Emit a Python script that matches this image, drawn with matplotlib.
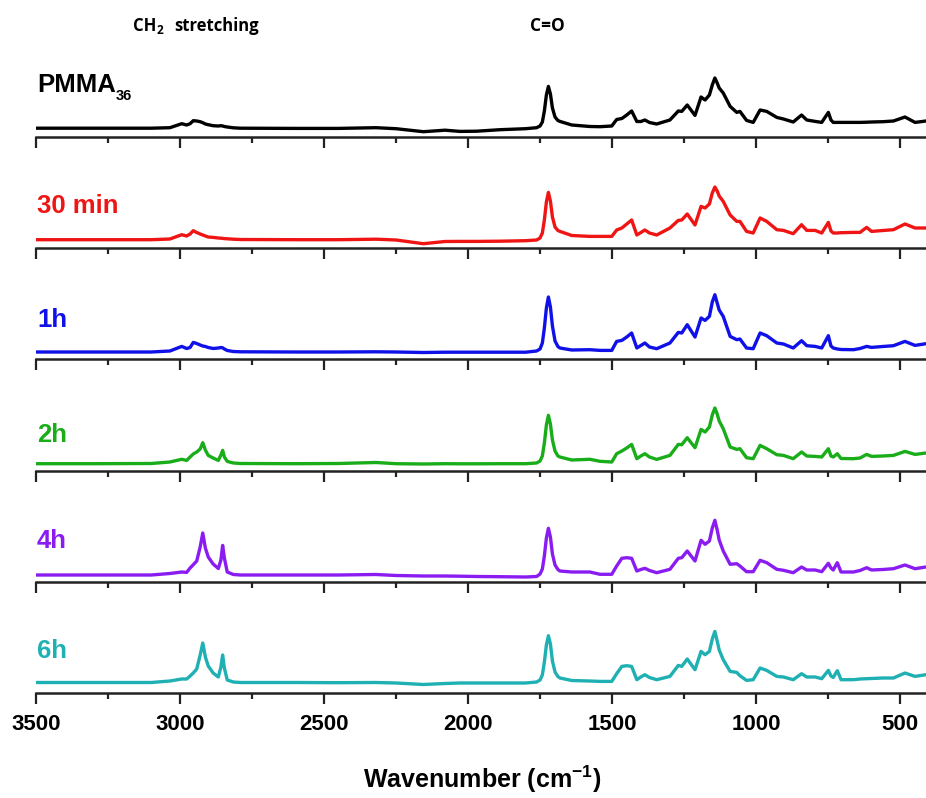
import matplotlib
matplotlib.use('Agg')
import matplotlib.pyplot as plt

plt.rcParams['font.family'] = ['Liberation Sans', 'DejaVu Sans']
plt.rcParams['font.weight'] = 'bold'
plt.rcParams['mathtext.fontset'] = 'custom'
plt.rcParams['mathtext.rm'] = 'Liberation Sans:bold'
plt.rcParams['mathtext.bf'] = 'Liberation Sans:bold'

# wavenumber grid (cm-1), shared by all spectra
wavenumber = [3500, 3300, 3100, 3035, 2994, 2977, 2965, 2954, 2942, 2930,
              2921, 2912, 2902, 2885, 2867, 2858, 2852, 2846, 2836, 2815,
              2790, 2600, 2450, 2320, 2250, 2155, 2080, 2028, 1970, 1889,
              1800, 1762, 1750, 1742, 1735, 1728, 1721, 1714, 1707, 1698,
              1688, 1681, 1640, 1577, 1542, 1501, 1484, 1466, 1449, 1432,
              1414, 1400, 1386, 1370, 1345, 1299, 1270, 1258, 1239, 1212,
              1191, 1177, 1162, 1152, 1143, 1135, 1128, 1114, 1090, 1067,
              1056, 1033, 1010, 986, 963, 928, 905, 871, 842, 824,
              795, 772, 749, 740, 732, 718, 705, 662, 639, 616,
              599, 560, 523, 483, 448, 410]

# intensities (arbitrary units, offset per panel)
pmma = [8.8, 8.8, 8.8, 9.3, 13.3, 12.0, 13.3, 16.3, 16.0, 15.3,
        14.3, 13.0, 12.3, 11.3, 11.0, 11.3, 11.0, 10.5, 10.0, 9.2,
        8.8, 8.6, 8.6, 9.3, 8.3, 5.3, 6.8, 5.6, 5.8, 7.3,
        8.3, 9.3, 11.0, 15.0, 26.0, 42.0, 50.6, 43.0, 29.0, 20.0,
        16.5, 15.6, 12.0, 10.5, 10.3, 11.0, 17.5, 18.5, 22.0, 26.0,
        15.5, 15.5, 17.0, 14.5, 13.0, 17.0, 26.0, 25.6, 32.0, 21.6,
        40.0, 37.0, 42.0, 52.0, 59.0, 54.0, 49.0, 44.0, 30.6, 24.6,
        25.6, 16.6, 14.6, 27.0, 25.6, 19.6, 18.0, 15.0, 22.0, 17.0,
        15.6, 14.6, 24.6, 17.0, 14.6, 14.6, 14.6, 14.6, 14.6, 14.8,
        15.0, 15.3, 16.0, 20.0, 14.6, 16.0]

min30 = [8.3, 8.3, 8.3, 9.0, 13.3, 12.0, 14.0, 17.3, 15.5, 14.0,
         13.0, 12.0, 11.0, 10.6, 10.0, 9.8, 9.6, 9.4, 9.2, 8.8,
         8.5, 8.3, 8.3, 8.8, 8.0, 4.3, 6.5, 6.6, 6.6, 6.8,
         7.3, 8.0, 10.0, 15.0, 28.0, 46.0, 55.6, 47.0, 31.0, 21.0,
         17.5, 16.6, 12.5, 11.6, 11.6, 11.6, 18.0, 20.0, 24.0, 28.0,
         13.0, 15.5, 18.0, 15.0, 13.0, 20.0, 27.6, 28.0, 34.0, 23.0,
         41.6, 40.0, 44.0, 55.0, 61.0, 57.0, 52.0, 46.6, 33.0, 26.6,
         26.6, 16.6, 15.0, 30.0, 26.6, 18.3, 17.6, 14.3, 23.3, 17.6,
         17.6, 15.0, 25.6, 17.0, 15.0, 15.0, 15.3, 15.6, 15.6, 20.6,
         16.6, 17.5, 18.3, 24.0, 20.0, 20.0]

h1 = [7.0, 7.0, 7.0, 8.0, 12.6, 10.5, 11.5, 16.6, 15.5, 14.0,
      13.0, 12.5, 11.5, 10.5, 11.0, 11.5, 11.2, 10.0, 8.5, 7.5,
      7.2, 7.0, 7.0, 7.2, 7.0, 6.5, 6.8, 6.8, 6.8, 6.8,
      6.8, 8.0, 10.0, 16.0, 31.0, 51.0, 62.0, 52.0, 33.0, 18.0,
      12.5, 11.0, 9.0, 9.3, 8.6, 8.6, 17.6, 18.6, 22.0, 26.0,
      11.0, 13.5, 16.0, 12.0, 10.3, 16.0, 26.6, 26.0, 34.3, 22.0,
      41.0, 38.6, 42.6, 57.0, 64.3, 56.0, 49.0, 42.6, 22.6, 19.3,
      20.0, 11.0, 10.3, 26.0, 23.3, 16.0, 15.0, 11.0, 18.3, 13.3,
      12.6, 11.0, 23.3, 13.0, 11.0, 10.0, 9.5, 9.3, 10.5, 12.6,
      11.6, 12.5, 13.3, 17.6, 13.6, 15.3]

h2 = [7.3, 7.3, 7.5, 9.0, 11.7, 10.6, 14.0, 17.0, 19.0, 22.0,
      28.3, 21.0, 15.6, 13.0, 10.6, 16.0, 20.6, 14.0, 9.6, 8.0,
      7.5, 7.3, 7.5, 8.5, 7.3, 7.0, 7.3, 7.2, 7.2, 7.3,
      7.3, 8.0, 10.0, 15.0, 28.0, 46.0, 55.7, 47.0, 31.0, 20.0,
      15.0, 14.0, 11.0, 11.7, 9.7, 9.0, 17.3, 20.0, 23.0, 26.6,
      12.3, 15.0, 17.3, 14.0, 11.6, 15.6, 26.6, 26.3, 33.3, 23.3,
      41.6, 39.0, 44.0, 56.0, 63.0, 57.0, 50.0, 42.3, 24.0, 21.6,
      22.3, 13.3, 12.3, 25.6, 22.3, 16.3, 15.6, 12.3, 19.0, 15.0,
      14.6, 14.0, 22.3, 15.0, 14.0, 17.3, 12.5, 12.3, 13.0, 16.6,
      14.6, 15.0, 15.6, 19.6, 16.6, 18.0]

h4 = [7.0, 7.0, 7.0, 8.5, 10.0, 9.6, 14.0, 17.3, 21.0, 35.0,
      49.0, 34.0, 25.0, 18.0, 13.5, 22.0, 36.6, 24.0, 10.0, 7.5,
      7.0, 7.0, 7.0, 7.5, 6.5, 6.0, 6.0, 5.8, 5.5, 5.3,
      5.0, 5.5, 8.0, 13.0, 26.0, 44.0, 53.7, 45.0, 28.0, 17.0,
      12.5, 11.0, 10.0, 10.0, 7.7, 7.7, 16.0, 23.7, 24.3, 23.7,
      11.0, 12.5, 13.7, 11.5, 9.3, 12.7, 23.7, 24.3, 31.0, 21.0,
      41.7, 37.7, 41.0, 54.0, 61.7, 52.0, 42.0, 31.0, 17.7, 18.3,
      16.0, 10.3, 10.3, 21.7, 19.3, 12.7, 11.7, 9.3, 15.0, 12.0,
      12.0, 10.3, 18.7, 14.0, 12.0, 19.3, 10.0, 10.0, 11.5, 14.3,
      12.0, 12.5, 13.3, 17.0, 13.3, 15.0]

h6 = [10.5, 10.5, 10.5, 12.0, 14.0, 14.0, 17.0, 20.0, 24.0, 38.0,
      50.0, 36.0, 27.0, 20.0, 16.0, 26.0, 38.0, 25.0, 13.0, 11.0,
      10.5, 10.5, 10.3, 10.5, 10.0, 8.5, 9.5, 10.0, 10.0, 10.0,
      10.0, 11.0, 13.0, 18.0, 31.0, 48.0, 57.3, 49.0, 32.0, 21.0,
      16.5, 15.0, 12.5, 12.0, 11.6, 11.6, 19.3, 26.6, 27.3, 26.6,
      13.3, 16.0, 18.3, 15.5, 13.3, 16.6, 27.6, 26.6, 34.0, 23.3,
      41.6, 38.3, 41.6, 54.0, 61.6, 52.0, 43.0, 33.3, 21.6, 20.6,
      17.3, 12.6, 13.3, 25.0, 22.6, 16.6, 16.0, 13.3, 19.3, 16.0,
      16.0, 14.3, 22.6, 17.0, 15.6, 22.3, 13.3, 13.3, 14.0, 14.3,
      14.5, 15.0, 15.0, 20.0, 16.6, 18.3]

spectra = [pmma, min30, h1, h2, h4, h6]
labels = ['PMMA', '30 min', '1h', '2h', '4h', '6h']
colors = ['black', '#f01515', '#1010e8', '#1aad1a', '#8a1cf2', '#1eb0b3']
major_ticks = [3500, 3000, 2500, 2000, 1500, 1000, 500]
minor_ticks = [3250, 2750, 2250, 1750, 1250, 750]

W, H = 926, 798
fig = plt.figure(figsize=(W / 100, H / 100), dpi=100)

spine_px = [137, 248, 359, 471, 582, 693]   # y of each panel's axis line
label_px = [92, 213, 327, 442, 548, 658]    # baseline of each panel label

for i, (y, lab, col) in enumerate(zip(spectra, labels, colors)):
    ax = fig.add_axes([36 / W, (H - spine_px[i]) / H, 890 / W, 100 / H])
    ax.plot(wavenumber, y, color=col, lw=2.4, solid_joinstyle='round')
    ax.set_xlim(3500, 410)
    ax.set_ylim(0, 100)
    for s in ['top', 'left', 'right']:
        ax.spines[s].set_visible(False)
    ax.spines['bottom'].set_linewidth(1.8)
    ax.spines['bottom'].set_color('#222222')
    ax.set_yticks([])
    ax.set_xticks(major_ticks)
    ax.set_xticks(minor_ticks, minor=True)
    ax.tick_params(axis='x', which='major', direction='out', length=8,
                   width=1.6, color='#222222', pad=7, labelsize=16)
    ax.tick_params(axis='x', which='minor', direction='out', length=4,
                   width=1.6, color='#222222')
    ax.patch.set_alpha(0)
    if i < len(spectra) - 1:
        ax.set_xticklabels([])
    else:
        for t in ax.get_xticklabels():
            t.set_fontweight('bold')
    fig.text(37 / W, 1 - label_px[i] / H, lab, color=col, fontsize=18.5,
             fontweight='bold', va='baseline', ha='left')

# subscript for PMMA36
fig.text(116 / W, 1 - 100 / H, '36', fontsize=10.5, fontweight='bold',
         va='baseline', ha='left')

# band annotations
ann = dict(family=['Open Sans', 'DejaVu Sans'], fontweight='bold',
           va='baseline')
fig.text(133 / W, 1 - 31 / H, 'CH', fontsize=12, ha='left', **ann)
fig.text(157 / W, 1 - 34 / H, '2', fontsize=8.5, ha='left', **ann)
fig.text(174 / W, 1 - 31 / H, 'stretching', fontsize=12, ha='left', **ann)
fig.text(547 / W, 1 - 31 / H, 'C=O', fontsize=12.5, ha='center', **ann)

fig.text(482 / W, 1 - 788 / H, r'Wavenumber (cm$^{\mathbf{-1}}$)',
         fontsize=18, fontweight='bold', va='baseline', ha='center')

fig.savefig('out.png', dpi=100)
